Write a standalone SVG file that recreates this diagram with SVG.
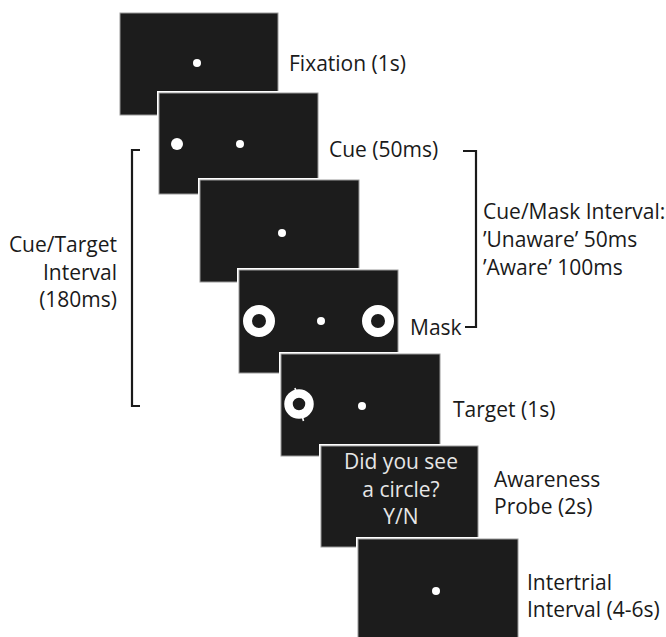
<svg xmlns="http://www.w3.org/2000/svg" width="666" height="637" viewBox="0 0 666 637">
<style>
.halo{fill:#fff}
.frame{fill:#1c1c1c;stroke:#9a9a9a;stroke-width:1}
.dot{fill:#fff}
.lbl{font-family:"Open Sans","Liberation Sans",sans-serif;font-size:21px;fill:#1a1a1a}
.probe{font-family:"Open Sans","Liberation Sans",sans-serif;font-size:21px;fill:#e6e6e6;text-anchor:middle}
.br{fill:none;stroke:#1a1a1a;stroke-width:2.2}
</style>
<rect width="666" height="637" fill="#fff"/>
<g id="fixation">
<rect class="frame" x="120" y="13" width="158" height="102"/>
<circle class="dot" cx="197" cy="63" r="4"/>
<text class="lbl" x="289" y="71">Fixation (1s)</text>
</g>
<g id="cue">
<rect class="halo" x="157" y="91" width="163" height="106"/>
<rect class="frame" x="159" y="93" width="159" height="101"/>
<circle class="dot" cx="177" cy="144" r="6"/>
<circle class="dot" cx="240" cy="144" r="4"/>
<text class="lbl" x="329" y="157">Cue (50ms)</text>
</g>
<g id="blank">
<rect class="halo" x="198" y="178" width="163" height="107"/>
<rect class="frame" x="200" y="180" width="159" height="102"/>
<circle class="dot" cx="282" cy="233" r="4"/>
</g>
<g id="mask">
<rect class="halo" x="237" y="268" width="163" height="107"/>
<rect class="frame" x="239" y="270" width="159" height="103"/>
<circle cx="259" cy="321" r="11.5" fill="none" stroke="#fff" stroke-width="9"/>
<circle cx="378" cy="321" r="11.5" fill="none" stroke="#fff" stroke-width="9"/>
<circle class="dot" cx="321" cy="321" r="4"/>
<text class="lbl" x="410" y="335">Mask</text>
</g>
<g id="target">
<rect class="halo" x="279" y="352" width="163" height="107"/>
<rect class="frame" x="281" y="354" width="159" height="102"/>
<line x1="295" y1="388" x2="303.5" y2="421" stroke="#fff" stroke-width="1.6"/>
<circle cx="299" cy="404" r="10.5" fill="#1c1c1c" stroke="#fff" stroke-width="8.5"/>
<circle class="dot" cx="362" cy="406" r="4"/>
<text class="lbl" x="453" y="417">Target (1s)</text>
</g>
<g id="probe">
<rect class="halo" x="319" y="444" width="162" height="106"/>
<rect class="frame" x="321" y="446" width="157" height="101"/>
<text class="probe" x="401" y="469">Did you see</text>
<text class="probe" x="401" y="497">a circle?</text>
<text class="probe" x="401" y="524">Y/N</text>
<text class="lbl" x="494" y="487">Awareness</text>
<text class="lbl" x="494" y="514">Probe (2s)</text>
</g>
<g id="intertrial">
<rect class="halo" x="356" y="537" width="164" height="106"/>
<rect class="frame" x="358" y="539" width="160" height="102"/>
<circle class="dot" cx="436" cy="591" r="4"/>
<text class="lbl" x="527" y="590">Intertrial</text>
<text class="lbl" x="527" y="617">Interval (4-6s)</text>
</g>
<g id="cue-target-interval">
<text class="lbl" x="117" y="252" text-anchor="end">Cue/Target</text>
<text class="lbl" x="117" y="280" text-anchor="end">Interval</text>
<text class="lbl" x="117" y="307" text-anchor="end">(180ms)</text>
</g>
<g id="cue-mask-interval">
<text class="lbl" x="483" y="219">Cue/Mask Interval:</text>
<text class="lbl" x="483" y="247">’Unaware’ 50ms</text>
<text class="lbl" x="483" y="275">’Aware’ 100ms</text>
</g>
<g id="connectors">
<path class="br" d="M140,150 H132 V406 H140"/>
<path class="br" d="M463,151 H476 V327 H465"/>
</g>
</svg>
